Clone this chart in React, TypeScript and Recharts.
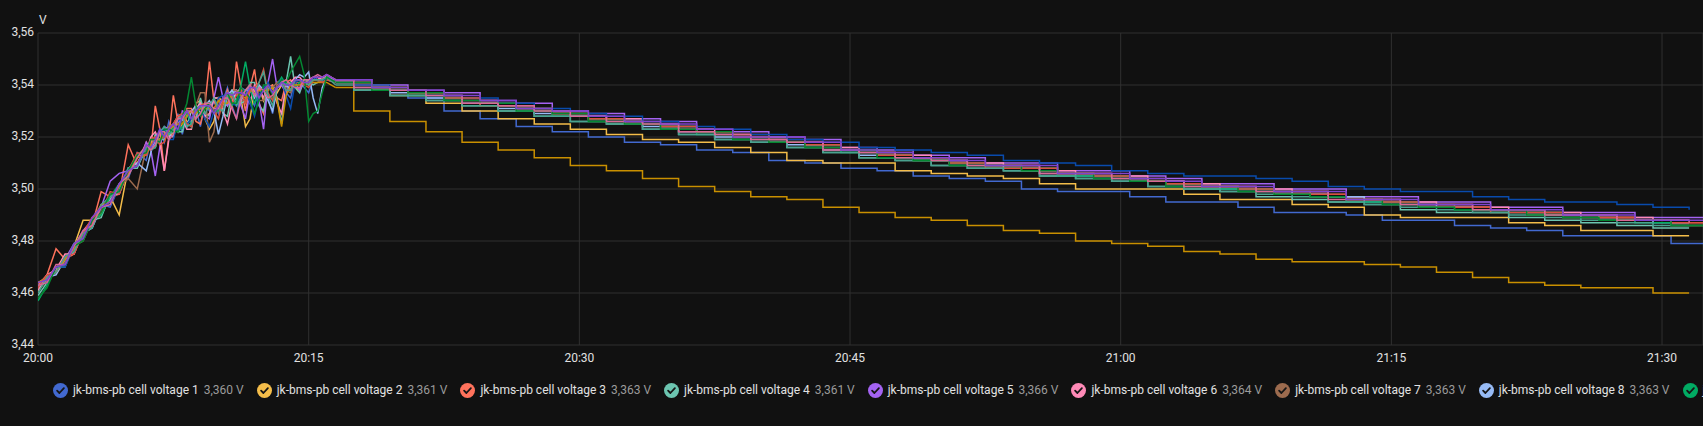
import React from 'react';
import { LineChart, Line, XAxis, YAxis, CartesianGrid } from 'recharts';

// minutes after 20:00 (charging phase, finer where the readings are noisy)
const CHARGE_T = [0,0.5,1,1.5,2,2.5,3,3.5,4,4.5,5,5.5,
  6,6.25,6.5,6.75,7,7.25,7.5,7.75,8,8.25,8.5,8.75,9,9.25,9.5,9.75,10,10.25,10.5,10.75,
  11,11.25,11.5,11.75,12,12.25,12.5,12.75,13,13.25,13.5,13.75,14,14.25,14.5,14.75,15,15.25,15.5,15.75,16];
// resting phase: two sampling grids (series alternate between them)
const DECAY_T_A = [16.5,18.5,20.5,22.5,24.5,26.5,28.5,30.5,32.5,34.5,36.5,38.5,40.5,42.5,44.5,46.5,48.5,50.5,52.5,54.5,56.5,58.5,60.5,62.5,64.5,66.5,68.5,70.5,72.5,74.5,76.5,78.5,80.5,82.5,84.5,86.5,88.5,90.5,92.5];
const DECAY_T_B = [16.5,17.5,19.5,21.5,23.5,25.5,27.5,29.5,31.5,33.5,35.5,37.5,39.5,41.5,43.5,45.5,47.5,49.5,51.5,53.5,55.5,57.5,59.5,61.5,63.5,65.5,67.5,69.5,71.5,73.5,75.5,77.5,79.5,81.5,83.5,85.5,87.5,89.5,91.5];
const DECAY_GRID = ['A','B','A','B','A','B','A','B','A','B','B','A','B','A','B','A'];

const X_TICKS = [0, 15, 30, 45, 60, 75, 90];
const X_TICK_LABELS = ['20:00', '20:15', '20:30', '20:45', '21:00', '21:15', '21:30'];
const Y_TICKS = [3.44, 3.46, 3.48, 3.5, 3.52, 3.54, 3.56];
const Y_TICK_LABELS = ['3,44', '3,46', '3,48', '3,50', '3,52', '3,54', '3,56'];

const SERIES_NAMES = [
  'jk-bms-pb cell voltage 1','jk-bms-pb cell voltage 2','jk-bms-pb cell voltage 3','jk-bms-pb cell voltage 4',
  'jk-bms-pb cell voltage 5','jk-bms-pb cell voltage 6','jk-bms-pb cell voltage 7','jk-bms-pb cell voltage 8',
  'jk-bms-pb cell voltage 9','jk-bms-pb cell voltage 10','jk-bms-pb cell voltage 11','jk-bms-pb cell voltage 12',
  'jk-bms-pb cell voltage 13','jk-bms-pb cell voltage 14','jk-bms-pb cell voltage 15','jk-bms-pb cell voltage 16',
];
const LEGEND_VALUES = ['3,360 V','3,361 V','3,363 V','3,361 V','3,366 V','3,364 V','3,363 V','3,363 V','3,362 V'];
const COLORS = ['#4269d0','#f4bd4a','#ff725c','#6cc5b0','#a463f2','#ff8ab7','#9c6b4e','#97bbf5','#01ab63','#094bad','#c99000','#d84f3e','#49a28f','#048732','#d96895','#8043ce'];

// charging phase, mV
const C1 = [3462,3466,3468,3474,3476,3483,3485,3494,3493,3501,3504,3514,
  3511,3519,3517,3523,3518,3526,3521,3529,3521,3529,3525,3531,3524,3533,3530,3534,3529,3534,3539,3532,3527,3539,3538,3535,3532,3539,3539,3535,3529,3539,3540,3537,3535,3542,3542,3539,3537,3542,3542,3541,3542];
const C2 = [3461,3465,3470,3471,3478,3488,3488,3490,3497,3490,3508,3510,
  3516,3516,3516,3522,3523,3520,3522,3528,3529,3526,3526,3533,3534,3527,3523,3526,3535,3534,3532,3538,3538,3535,3524,3527,3538,3539,3534,3539,3540,3537,3540,3541,3540,3539,3538,3541,3540,3542,3542,3543,3543];
const C3 = [3463,3467,3477,3473,3475,3484,3486,3499,3497,3498,3517,3509,
  3518,3515,3532,3523,3507,3520,3536,3526,3524,3531,3531,3526,3525,3532,3549,3534,3530,3532,3538,3531,3549,3539,3530,3539,3546,3533,3529,3539,3540,3535,3534,3541,3542,3539,3538,3542,3541,3542,3543,3541,3542];
const C4 = [3459,3464,3470,3470,3479,3481,3488,3489,3498,3499,3508,3508,
  3516,3515,3521,3519,3519,3524,3524,3522,3522,3529,3530,3527,3535,3529,3528,3535,3535,3529,3528,3537,3538,3533,3534,3541,3541,3532,3530,3539,3539,3535,3525,3541,3551,3539,3537,3542,3541,3540,3541,3542,3543];
const C5 = [3464,3466,3468,3473,3479,3481,3489,3493,3503,3506,3507,3509,
  3518,3515,3505,3516,3524,3523,3525,3522,3530,3529,3525,3530,3532,3528,3527,3535,3543,3535,3532,3536,3538,3532,3527,3538,3539,3534,3523,3541,3550,3539,3540,3537,3541,3541,3538,3542,3542,3542,3543,3542,3543];
const C6 = [3461,3467,3469,3475,3475,3484,3488,3491,3498,3498,3507,3513,
  3514,3520,3522,3518,3507,3519,3525,3528,3527,3523,3523,3531,3533,3528,3529,3535,3535,3530,3525,3533,3537,3539,3537,3533,3540,3539,3535,3540,3539,3533,3529,3540,3541,3543,3543,3541,3542,3543,3543,3542,3544];
const C7 = [3463,3464,3470,3472,3478,3480,3488,3494,3495,3501,3504,3500,
  3516,3515,3520,3519,3520,3524,3525,3522,3527,3529,3527,3532,3537,3537,3518,3522,3535,3532,3533,3538,3538,3534,3534,3539,3539,3534,3534,3540,3539,3541,3542,3538,3537,3541,3541,3540,3541,3541,3541,3542,3543];
const C8 = [3462,3466,3467,3473,3476,3483,3485,3493,3496,3499,3508,3510,
  3507,3514,3519,3522,3523,3521,3520,3526,3527,3524,3530,3532,3529,3532,3534,3530,3521,3528,3536,3538,3534,3534,3538,3538,3535,3540,3538,3534,3530,3539,3541,3540,3538,3542,3544,3543,3545,3535,3529,3539,3543];
const C9 = [3457,3463,3470,3471,3479,3481,3488,3490,3497,3502,3505,3513,
  3516,3515,3516,3522,3523,3521,3524,3522,3524,3530,3524,3530,3529,3533,3533,3530,3530,3535,3536,3532,3534,3540,3549,3539,3533,3536,3539,3535,3535,3540,3543,3540,3541,3539,3541,3542,3542,3542,3542,3541,3543];
const C10 = [3463,3464,3470,3470,3478,3484,3486,3493,3494,3501,3508,3509,
  3516,3515,3517,3522,3523,3519,3519,3526,3528,3525,3527,3531,3531,3527,3524,3530,3535,3536,3535,3533,3532,3537,3538,3533,3528,3536,3539,3541,3537,3540,3542,3536,3531,3541,3542,3541,3541,3543,3542,3542,3542];
const C11 = [3464,3466,3468,3473,3477,3483,3486,3494,3495,3501,3506,3512,
  3513,3517,3519,3519,3521,3523,3524,3525,3525,3528,3530,3529,3531,3531,3531,3531,3534,3533,3533,3536,3537,3536,3535,3538,3537,3538,3538,3538,3539,3534,3524,3536,3540,3540,3540,3541,3541,3541,3541,3541,3541];
const C12 = [3462,3467,3468,3474,3475,3483,3489,3491,3499,3498,3507,3514,
  3513,3519,3520,3517,3518,3523,3525,3528,3529,3525,3524,3530,3532,3533,3532,3530,3527,3534,3537,3533,3536,3538,3533,3538,3539,3541,3546,3537,3534,3540,3541,3538,3538,3542,3542,3540,3539,3542,3542,3541,3542];
const C13 = [3460,3466,3468,3474,3476,3483,3485,3494,3497,3499,3508,3509,
  3516,3515,3516,3522,3524,3521,3522,3527,3528,3524,3525,3531,3532,3529,3532,3535,3531,3530,3536,3537,3532,3535,3538,3540,3536,3541,3545,3536,3532,3539,3541,3538,3538,3542,3542,3541,3540,3542,3542,3542,3543];
const C14 = [3458,3462,3470,3471,3478,3480,3488,3491,3498,3499,3507,3513,
  3514,3519,3519,3518,3523,3523,3522,3522,3528,3533,3543,3532,3528,3531,3533,3529,3532,3535,3537,3533,3533,3539,3537,3535,3529,3534,3540,3540,3536,3539,3542,3541,3545,3548,3551,3544,3526,3529,3530,3537,3543];
const C15 = [3463,3464,3471,3471,3478,3484,3486,3493,3494,3502,3505,3512,
  3517,3515,3517,3522,3522,3519,3521,3527,3527,3530,3530,3527,3529,3533,3533,3531,3531,3535,3535,3531,3527,3535,3538,3540,3536,3539,3538,3535,3536,3539,3541,3542,3540,3539,3539,3542,3542,3543,3544,3543,3544];
const C16 = [3464,3465,3470,3471,3479,3481,3489,3493,3495,3502,3507,3509,
  3517,3516,3519,3523,3520,3523,3525,3523,3528,3530,3527,3530,3532,3532,3532,3529,3532,3535,3537,3536,3537,3537,3536,3539,3539,3535,3538,3540,3537,3539,3541,3540,3540,3542,3542,3541,3541,3543,3543,3543,3544];

// resting phase, mV
const D1 = [3541,3538,3535,3530,3527,3524,3522,3520,3518,3517,3515,3514,3511,3510,3508,3507,3505,3504,3503,3500,3499,3499,3497,3495,3495,3493,3491,3491,3490,3488,3488,3486,3485,3484,3482,3482,3482,3479,3478];
const D2 = [3541,3538,3536,3533,3530,3527,3525,3523,3521,3519,3518,3516,3514,3511,3510,3510,3507,3506,3505,3504,3502,3500,3500,3500,3498,3496,3496,3494,3493,3490,3489,3489,3489,3487,3486,3484,3484,3482,3482];
const D3 = [3541,3538,3537,3535,3533,3530,3529,3527,3525,3524,3522,3520,3518,3517,3515,3513,3511,3510,3509,3507,3506,3505,3503,3502,3501,3500,3498,3497,3496,3495,3493,3493,3492,3490,3490,3489,3488,3486,3486];
const D4 = [3541,3538,3536,3534,3532,3530,3528,3526,3525,3523,3521,3519,3518,3516,3514,3512,3511,3509,3508,3507,3505,3504,3503,3501,3500,3499,3497,3496,3495,3494,3492,3491,3491,3489,3488,3487,3486,3485,3485];
const D5 = [3542,3540,3538,3537,3534,3533,3530,3529,3527,3526,3523,3522,3520,3519,3516,3515,3513,3512,3510,3510,3507,3507,3505,3504,3502,3502,3500,3500,3497,3497,3495,3495,3493,3493,3491,3491,3489,3489,3488];
const D6 = [3542,3540,3538,3536,3534,3532,3530,3528,3527,3525,3523,3521,3520,3518,3516,3514,3513,3511,3510,3509,3507,3506,3505,3503,3502,3501,3500,3499,3497,3496,3495,3494,3493,3492,3491,3490,3489,3488,3488];
const D7 = [3541,3539,3537,3535,3533,3531,3529,3527,3526,3524,3522,3521,3519,3517,3515,3514,3512,3510,3509,3508,3506,3505,3504,3502,3501,3500,3499,3498,3496,3495,3494,3493,3492,3491,3490,3489,3488,3487,3486];
const D8 = [3541,3539,3537,3535,3533,3531,3529,3528,3526,3524,3522,3520,3519,3517,3515,3513,3512,3511,3509,3508,3506,3505,3504,3503,3501,3500,3499,3498,3497,3495,3494,3493,3492,3491,3490,3489,3488,3487,3487];
const D9 = [3541,3539,3536,3535,3532,3531,3528,3527,3525,3524,3521,3520,3518,3517,3514,3513,3511,3510,3508,3508,3505,3505,3503,3502,3500,3500,3498,3497,3495,3495,3493,3492,3491,3491,3489,3488,3487,3486,3486];
const D10 = [3541,3540,3538,3536,3535,3533,3531,3529,3528,3526,3524,3523,3521,3519,3518,3516,3515,3514,3513,3511,3510,3509,3507,3506,3505,3505,3504,3503,3501,3500,3499,3499,3497,3496,3495,3495,3494,3493,3492];
const D11 = [3539,3530,3526,3522,3518,3515,3512,3509,3507,3504,3501,3499,3497,3496,3493,3491,3489,3488,3486,3484,3483,3480,3479,3478,3476,3475,3473,3472,3472,3471,3470,3468,3466,3464,3463,3462,3462,3460,3460];
const D12 = [3541,3539,3537,3535,3532,3531,3529,3527,3525,3524,3522,3520,3518,3517,3515,3513,3512,3510,3508,3508,3506,3505,3503,3502,3501,3500,3498,3498,3496,3495,3493,3493,3491,3491,3489,3489,3488,3487,3486];
const D13 = [3540,3538,3536,3534,3532,3530,3528,3526,3525,3523,3521,3519,3518,3516,3514,3512,3511,3509,3508,3507,3505,3504,3503,3501,3500,3499,3498,3497,3495,3494,3493,3492,3491,3490,3489,3488,3487,3486,3486];
const D14 = [3541,3538,3537,3534,3533,3530,3529,3526,3525,3523,3522,3519,3518,3516,3515,3512,3511,3509,3509,3507,3506,3504,3503,3501,3501,3499,3498,3497,3496,3494,3493,3492,3492,3490,3489,3488,3488,3486,3486];
const D15 = [3542,3539,3538,3536,3533,3532,3530,3528,3526,3525,3522,3521,3519,3518,3515,3514,3512,3511,3509,3509,3506,3506,3504,3503,3501,3501,3499,3499,3496,3496,3494,3494,3492,3492,3490,3490,3488,3488,3487];
const D16 = [3542,3539,3538,3536,3534,3531,3530,3528,3526,3525,3523,3520,3520,3518,3515,3514,3512,3511,3509,3509,3506,3506,3504,3503,3501,3501,3499,3499,3496,3496,3494,3494,3492,3492,3490,3490,3488,3488,3487];

const CHARGE = [C1,C2,C3,C4,C5,C6,C7,C8,C9,C10,C11,C12,C13,C14,C15,C16];
const DECAY = [D1,D2,D3,D4,D5,D6,D7,D8,D9,D10,D11,D12,D13,D14,D15,D16];

const chargeData = CHARGE.map((arr, i) =>
  CHARGE_T.map((t, j) => ({ t, v: arr[j] / 1000 })).concat([{ t: DECAY_T_A[0], v: DECAY[i][0] / 1000 }])
);
const decayData = DECAY.map((arr, i) => {
  const grid = DECAY_GRID[i] === 'A' ? DECAY_T_A : DECAY_T_B;
  return grid.map((t, j) => ({ t, v: arr[j] / 1000 }));
});

const xLabel = (v: number) => {
  const i = X_TICKS.indexOf(v);
  return i >= 0 ? X_TICK_LABELS[i] : '';
};
const yLabel = (v: number) => {
  const i = Y_TICKS.findIndex((y) => Math.abs(y - v) < 1e-9);
  return i >= 0 ? Y_TICK_LABELS[i] : '';
};

const CheckIcon = ({ color }: { color: string }) => (
  <svg width={15} height={15} viewBox="0 0 15 15" style={{ flex: '0 0 auto', marginRight: 5 }}>
    <circle cx={7.5} cy={7.5} r={7.5} fill={color} />
    <path d="M4.1 7.7 L6.4 10 L10.9 5.2" stroke="#161616" strokeWidth={1.8} fill="none" strokeLinecap="round" strokeLinejoin="round" />
  </svg>
);

export default function App() {
  return (
    <div
      style={{
        position: 'fixed', left: 0, top: 0, width: 1703, height: 426, overflow: 'hidden',
        background: '#111111', fontFamily: 'Roboto, sans-serif',
      }}
    >
      <span style={{ position: 'absolute', left: 39, top: 14, fontSize: 12, lineHeight: '12px', color: '#e1e1e1' }}>V</span>
      <LineChart width={1703} height={372} margin={{ top: 33, right: 0, bottom: 0, left: 0 }}>
        <CartesianGrid stroke="#303030" strokeWidth={1} />
        <XAxis
          dataKey="t"
          type="number"
          domain={[0, 92.27]}
          allowDataOverflow
          ticks={X_TICKS}
          tickFormatter={xLabel}
          axisLine={false}
          tickLine={false}
          height={27}
          tick={{ fill: '#e1e1e1', fontSize: 12 }}
          interval={0}
        />
        <YAxis
          type="number"
          domain={[3.44, 3.56]}
          allowDataOverflow
          ticks={Y_TICKS}
          tickFormatter={yLabel}
          axisLine={false}
          tickLine={false}
          width={38}
          tickSize={4}
          tickMargin={0}
          tick={{ fill: '#e1e1e1', fontSize: 12, dy: -1 }}
          interval={0}
        />
        {COLORS.map((c, i) => (
          <Line
            key={'c' + i}
            data={chargeData[i]}
            dataKey="v"
            type="linear"
            stroke={c}
            strokeWidth={1.5}
            dot={false}
            activeDot={false}
            isAnimationActive={false}
          />
        ))}
        {COLORS.map((c, i) => (
          <Line
            key={'d' + i}
            data={decayData[i]}
            dataKey="v"
            type="stepAfter"
            stroke={c}
            strokeWidth={1.5}
            dot={false}
            activeDot={false}
            isAnimationActive={false}
          />
        ))}
      </LineChart>
      <div
        style={{
          position: 'absolute', left: 53, top: 382, height: 16, display: 'flex', alignItems: 'center',
          whiteSpace: 'nowrap', fontSize: 12,
        }}
      >
        {LEGEND_VALUES.map((val, i) => (
          <div key={SERIES_NAMES[i]} style={{ display: 'flex', alignItems: 'center', marginRight: 13 }}>
            <CheckIcon color={COLORS[i]} />
            <span style={{ color: '#e1e1e1' }}>{SERIES_NAMES[i]}</span>
            <span style={{ color: '#9b9b9b', marginLeft: 5 }}>{val}</span>
          </div>
        ))}
      </div>
    </div>
  );
}
